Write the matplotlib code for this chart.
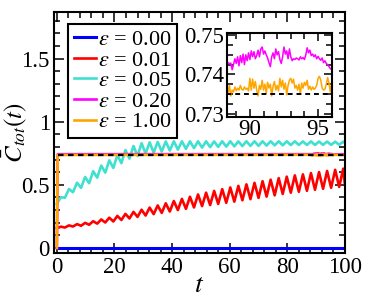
#!/usr/bin/env python

# Import necessary dependencies.
import numpy as np
import matplotlib
matplotlib.use('Agg')
import matplotlib.pyplot as plt
from matplotlib.ticker import MultipleLocator, FixedLocator

plt.rcParams['font.family'] = ['Liberation Serif', 'DejaVu Serif']
plt.rcParams['mathtext.fontset'] = 'stix'

# Legend labels and colours.
labels = [r'$\epsilon$ = 0.00', r'$\epsilon$ = 0.01', r'$\epsilon$ = 0.05',
          r'$\epsilon$ = 0.20', r'$\epsilon$ = 1.00']
colors = ['#0000ff', '#ff0000', '#40e0d0', '#ff00ff', '#ffa500']

# Tick values and labels.
main_xticks = [0, 20, 40, 60, 80, 100]
main_yticks = [0, 0.5, 1, 1.5]
main_ytick_labels = ['0', '0.5', '1', '1.5']
inset_xticks = [90, 95]
inset_yticks = [0.73, 0.74, 0.75]
inset_ytick_labels = ['0.73', '0.74', '0.75']

# Oscillating curves: values at successive extrema.
osc_t = np.arange(72) * 1.4
red_ext = [0.156, 0.169, 0.162, 0.179, 0.170, 0.189, 0.176, 0.199, 0.184, 0.212,
           0.193, 0.226, 0.202, 0.240, 0.210, 0.254, 0.222, 0.270, 0.234, 0.286,
           0.246, 0.303, 0.257, 0.320, 0.268, 0.337, 0.278, 0.354, 0.289, 0.372,
           0.300, 0.389, 0.310, 0.406, 0.321, 0.424, 0.332, 0.438, 0.340, 0.452,
           0.349, 0.466, 0.358, 0.479, 0.367, 0.492, 0.378, 0.504, 0.387, 0.516,
           0.397, 0.529, 0.407, 0.541, 0.417, 0.553, 0.428, 0.565, 0.438, 0.575,
           0.445, 0.583, 0.453, 0.593, 0.461, 0.601, 0.469, 0.610, 0.477, 0.619,
           0.484, 0.628]
red_end = 0.50
cyan_ext = [0.350, 0.402, 0.398, 0.467, 0.442, 0.517, 0.476, 0.562, 0.513, 0.608,
            0.557, 0.653, 0.597, 0.694, 0.634, 0.735, 0.672, 0.776, 0.708, 0.808,
            0.729, 0.830, 0.748, 0.837, 0.756, 0.840, 0.764, 0.844, 0.772, 0.845,
            0.779, 0.845, 0.785, 0.845, 0.791, 0.845, 0.795, 0.845, 0.799, 0.844,
            0.801, 0.845, 0.803, 0.845, 0.805, 0.844, 0.807, 0.845, 0.809, 0.845,
            0.809, 0.845, 0.811, 0.845, 0.813, 0.845, 0.813, 0.845, 0.815, 0.845,
            0.816, 0.844, 0.816, 0.844, 0.816, 0.843, 0.817, 0.843, 0.817, 0.842,
            0.818, 0.842]
cyan_end = 0.83

# Saturated curves (eps = 0.20 and 1.00), fine detail shown in the inset.
fine_t = 88.3 + np.arange(78) * 0.1
magenta_fine = [0.7428, 0.7430, 0.7427, 0.7429, 0.7412,
                0.7425, 0.7440, 0.7428, 0.7445, 0.7422,
                0.7448, 0.7430, 0.7452, 0.7425, 0.7450, 0.7435,
                0.7455, 0.7438, 0.7460, 0.7445, 0.7458, 0.7440,
                0.7448, 0.7462, 0.7445, 0.7465, 0.7470, 0.7452,
                0.7460, 0.7450, 0.7442, 0.7430, 0.7420, 0.7445,
                0.7455, 0.7440, 0.7465, 0.7450, 0.7458, 0.7438,
                0.7428, 0.7445, 0.7470, 0.7452, 0.7460, 0.7440,
                0.7465, 0.7445, 0.7435, 0.7440, 0.7438, 0.7442,
                0.7440, 0.7437, 0.7445, 0.7440, 0.7443, 0.7438,
                0.7450, 0.7468, 0.7455, 0.7462, 0.7448, 0.7452,
                0.7445, 0.7450, 0.7440, 0.7446, 0.7440, 0.7436,
                0.7442, 0.7430, 0.7435, 0.7428, 0.7425, 0.7420,
                0.7415, 0.7412]
orange_fine = [0.7385, 0.7350, 0.7372, 0.7345, 0.7360,
               0.7355, 0.7368, 0.7358, 0.7365, 0.7360,
               0.7372, 0.7362, 0.7360, 0.7368, 0.7362, 0.7365,
               0.7358, 0.7390, 0.7360, 0.7388, 0.7365, 0.7382,
               0.7360, 0.7345, 0.7372, 0.7362, 0.7385, 0.7360,
               0.7375, 0.7352, 0.7380, 0.7365, 0.7375, 0.7345,
               0.7370, 0.7382, 0.7360, 0.7372, 0.7358, 0.7390,
               0.7368, 0.7385, 0.7362, 0.7378, 0.7348, 0.7372,
               0.7385, 0.7390, 0.7378, 0.7388, 0.7365, 0.7372,
               0.7360, 0.7375, 0.7350, 0.7378, 0.7365, 0.7380,
               0.7372, 0.7385, 0.7362, 0.7370, 0.7360, 0.7368,
               0.7362, 0.7365, 0.7372, 0.7390, 0.7395, 0.7385,
               0.7365, 0.7360, 0.7362, 0.7375, 0.7392, 0.7378,
               0.7355, 0.7380]
# Start (jump at t = 0) and end of the saturated curves in the main panel.
start_t = [0.0, 0.3]
magenta_start = [0.0, 0.743]
orange_start = [0.0, 0.737]
end_t = [100.0]
magenta_end = [0.743]
orange_end = [0.737]
# Reference (dashed) level and the eps = 0 curve.
ref_level = 0.735
t_span = [0, 100]
blue_level = [0.0, 0.0]


def style_axes(ax, xminor, yminor):
    ax.tick_params(which='both', direction='in', top=True, right=True,
                   labelsize=16.5, width=1.1)
    ax.tick_params(which='major', length=7, pad=3)
    ax.tick_params(which='minor', length=4)
    ax.xaxis.set_minor_locator(MultipleLocator(xminor))
    ax.yaxis.set_minor_locator(MultipleLocator(yminor))
    for sp in ax.spines.values():
        sp.set_linewidth(1.5)


fig = plt.figure(figsize=(3.66, 2.97), dpi=100)

# Main panel.
ax = fig.add_axes([0.1475, 0.148, 0.795, 0.812])
lw = 1.9
sat_t = start_t + list(fine_t) + end_t
ax.plot(t_span, blue_level, color=colors[0], lw=2.2, label=labels[0])
ax.plot(list(osc_t) + [100], red_ext + [red_end], color=colors[1], lw=lw,
        solid_joinstyle='round', label=labels[1])
ax.plot(list(osc_t) + [100], cyan_ext + [cyan_end], color=colors[2], lw=lw,
        solid_joinstyle='round', label=labels[2])
ax.plot(sat_t, magenta_start + magenta_fine + magenta_end, color=colors[3], lw=lw,
        label=labels[3])
ax.plot(sat_t, orange_start + orange_fine + orange_end, color=colors[4], lw=lw,
        label=labels[4])
ax.plot([start_t[1], t_span[1]], [ref_level, ref_level], color='black', lw=1.6,
        ls=(0, (2.5, 2)))

ax.set_xlim(-1, 100)
ax.set_ylim(-0.04, 1.87)
ax.xaxis.set_major_locator(FixedLocator(main_xticks))
ax.set_yticks(main_yticks)
ax.set_yticklabels(main_ytick_labels)
style_axes(ax, 4, 0.1)
ax.set_xlabel(r'$t$', fontsize=20, labelpad=-4)
ax.set_ylabel(r'$\bar{C}_{tot}(t)$', fontsize=18)
ax.yaxis.set_label_coords(-0.085, 0.5)

leg = ax.legend(loc='upper left', bbox_to_anchor=(68 / 366, 1 - 24 / 297),
                bbox_transform=fig.transFigure, borderaxespad=0, fontsize=16,
                handlelength=1.0, handletextpad=0.1, labelspacing=0.0,
                borderpad=0.25, fancybox=False, framealpha=1, edgecolor='black')
leg.get_frame().set_linewidth(1.5)

# Inset.
axin = fig.add_axes([0.6194, 0.607, 0.2869, 0.2809])
axin.plot(fine_t, magenta_fine, color=colors[3], lw=1.1)
axin.plot(fine_t, orange_fine, color=colors[4], lw=1.1)
axin.plot(t_span, [ref_level, ref_level], color='black', lw=1.4, ls=(0, (2.5, 2)))
axin.set_xlim(88.3, 96)
axin.set_ylim(0.7292, 0.7505)
axin.xaxis.set_major_locator(FixedLocator(inset_xticks))
axin.set_yticks(inset_yticks)
axin.set_yticklabels(inset_ytick_labels)
style_axes(axin, 1, 0.0025)
axin.tick_params(which='major', length=6, pad=2)

fig.savefig('out.png', dpi=100)
